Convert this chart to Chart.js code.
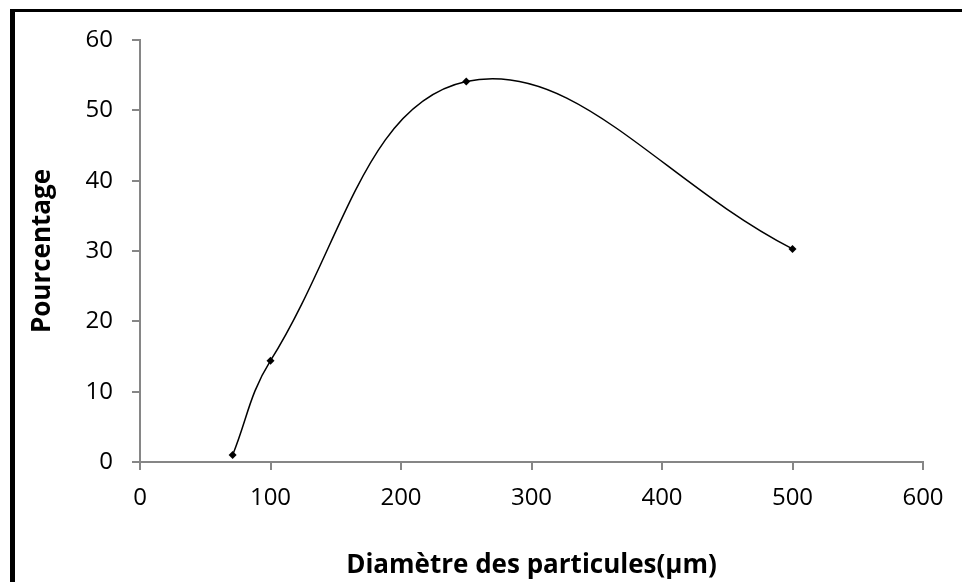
<!DOCTYPE html>
<html>
<head>
    <meta charset="utf-8">
    <title>Diamètre des particules</title>
    <script src="https://cdn.jsdelivr.net/npm/chart.js"></script>
    <style>
        body { margin: 0; overflow: hidden; background: #fff; }
        #frame {
            position: absolute; left: 10px; top: 9px;
            width: 2000px; height: 2000px;
            border-left: 5px solid #000; border-top: 3px solid #000;
            pointer-events: none;
        }
        canvas { position: absolute; left: 0; top: 0; }
    </style>
</head>
<body>
    <canvas id="sizeChart" width="962" height="582"></canvas>
    <div id="frame"></div>

    <script>
    // values
    const diameters = [71, 100, 250, 500];
    const percentages = [1.0, 14.4, 54.1, 30.3];
    const xTitle = 'Diamètre des particules(µm)';
    const yTitle = 'Pourcentage';

    const points = diameters.map((d, i) => ({ x: d, y: percentages[i] }));
    const axisGrey = '#868686';
    const tickFont = { family: 'Open Sans', size: 24 };
    const titleFont = { family: 'Open Sans', size: 26, weight: 'bold' };

    const ctx = document.getElementById('sizeChart').getContext('2d');
    new Chart(ctx, {
        type: 'line',
        data: {
            datasets: [{
                data: points,
                borderColor: '#000',
                backgroundColor: '#000',
                borderWidth: 1.5,
                pointStyle: 'rectRot',
                pointRadius: 4,
                pointBorderWidth: 0,
                fill: false,
                tension: 0.4
            }]
        },
        options: {
            responsive: false,
            animation: false,
            devicePixelRatio: 1,
            layout: { padding: { left: 0, top: 40, right: 39, bottom: 0 } },
            plugins: { legend: { display: false }, tooltip: { enabled: false } },
            scales: {
                x: {
                    type: 'linear',
                    min: 0, max: 600,
                    afterFit: s => { s.height = 120; },
                    ticks: { stepSize: 100, color: '#000', font: tickFont, padding: 14, maxRotation: 0 },
                    grid: { drawOnChartArea: false, drawTicks: true, tickLength: 8, color: axisGrey, lineWidth: 2 },
                    border: { color: axisGrey, width: 2 },
                    title: { display: true, text: xTitle, color: '#000', font: titleFont, padding: { top: 0, bottom: 1 } }
                },
                y: {
                    min: 0, max: 60,
                    afterFit: s => { s.width = 140; },
                    ticks: { stepSize: 10, color: '#000', font: tickFont, padding: 19 },
                    grid: { drawOnChartArea: false, drawTicks: true, tickLength: 8, color: axisGrey, lineWidth: 2 },
                    border: { color: axisGrey, width: 2 },
                    title: { display: true, text: yTitle, color: '#000', font: titleFont, padding: { top: 27, bottom: 0 } }
                }
            }
        }
    });
    </script>
</body>
</html>
